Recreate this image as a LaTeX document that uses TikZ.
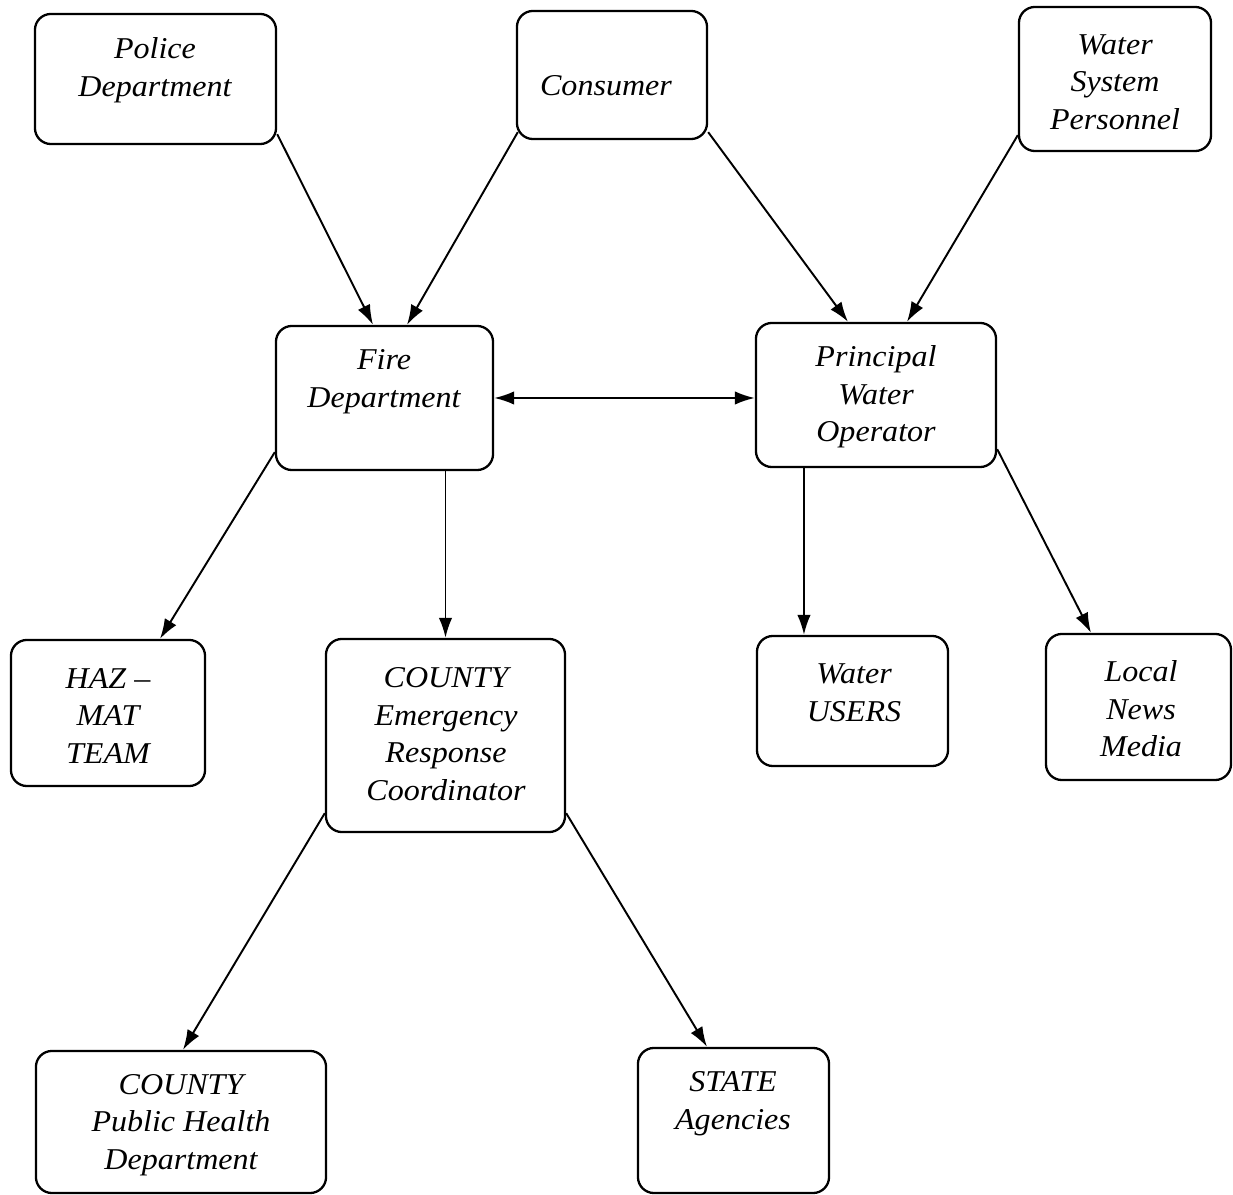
\documentclass[tikz,border=0pt]{standalone}
\usepackage{fontspec}
\setmainfont{Liberation Serif}[FakeStretch=1.06]
\usetikzlibrary{arrows.meta}
\tikzset{
  box/.style={draw, line width=0.65pt, rounded corners=0.16cm, inner sep=0pt},
  txt/.style={align=center, font=\fontsize{8.6}{10.7}\selectfont\itshape, inner sep=0pt},
  arr/.style={-{Latex[length=2mm,width=1.35mm]}, line width=0.55pt},
  darr/.style={{Latex[length=2mm,width=1.35mm]}-{Latex[length=2mm,width=1.35mm]}, line width=0.55pt},
}
\begin{document}
\begin{tikzpicture}[x=0.01cm,y=-0.01cm]
\path[use as bounding box] (0,0) rectangle (1233,1195);
% boxes
\node[box, minimum width=2.41cm, minimum height=1.30cm] (police) at (155.5,79) {};
\node[box, minimum width=1.90cm, minimum height=1.28cm] (consumer) at (612,75) {};
\node[box, minimum width=1.92cm, minimum height=1.44cm] (wsp) at (1115,79) {};
\node[box, minimum width=2.17cm, minimum height=1.44cm] (fire) at (384.5,398) {};
\node[box, minimum width=2.40cm, minimum height=1.44cm] (pwo) at (876,395) {};
\node[box, minimum width=1.94cm, minimum height=1.46cm] (haz) at (108,713) {};
\node[box, minimum width=2.39cm, minimum height=1.93cm] (county) at (445.5,735.5) {};
\node[box, minimum width=1.91cm, minimum height=1.30cm] (users) at (852.5,701) {};
\node[box, minimum width=1.85cm, minimum height=1.46cm] (news) at (1138.5,707) {};
\node[box, minimum width=2.90cm, minimum height=1.42cm] (health) at (181,1122) {};
\node[box, minimum width=1.91cm, minimum height=1.45cm] (state) at (733.5,1120.5) {};
% texts
\node[txt] (policeT) at (155,70) {Police\\Department};
\node[txt] (consumerT) at (606,86) {Consumer};
\node[txt] (wspT) at (1115,82) {Water\\System\\Personnel};
\node[txt] (fireT) at (384,382) {Fire\\Department};
\node[txt] (pwoT) at (876,397) {Principal\\Water\\Operator};
\node[txt] (hazT) at (108,716) {HAZ –\\MAT\\TEAM};
\node[txt] (countyT) at (446,734) {COUNTY\\Emergency\\Response\\Coordinator};
\node[txt] (usersT) at (854,693) {Water\\USERS};
\node[txt] (newsT) at (1141,709) {Local\\News\\Media};
\node[txt] (healthT) at (181,1125) {COUNTY\\Public Health\\Department};
\node[txt] (stateT) at (733,1104) {STATE\\Agencies};
% connectors
\draw[arr] ([yshift=0.11cm]police.south east) -- ([xshift=-0.115cm]fire.north);
\draw[arr] ([yshift=0.08cm,xshift=0.02cm]consumer.south west) -- ([xshift=0.225cm]fire.north);
\draw[arr] ([yshift=0.08cm]consumer.south east) -- ([xshift=-0.28cm]pwo.north);
\draw[arr] ([yshift=0.17cm]wsp.south west) -- ([xshift=0.31cm]pwo.north);
\draw[darr] (fire.east) -- (fire.east -| pwo.west);
\draw[arr] ([yshift=0.19cm]fire.south west) -- ([xshift=0.52cm]haz.north);
\draw[arr] (county.north |- fire.south) -- (county.north);
\coordinate (usersIn) at ([xshift=-0.485cm]users.north);
\draw[arr] (usersIn |- pwo.south) -- (usersIn);
\draw[arr] ([yshift=0.19cm]pwo.south east) -- ([xshift=-0.475cm]news.north);
\draw[arr] ([yshift=0.20cm]county.south west) -- ([xshift=0.02cm]health.north);
\draw[arr] ([yshift=0.20cm]county.south east) -- ([xshift=-0.265cm]state.north);
\end{tikzpicture}
\end{document}
